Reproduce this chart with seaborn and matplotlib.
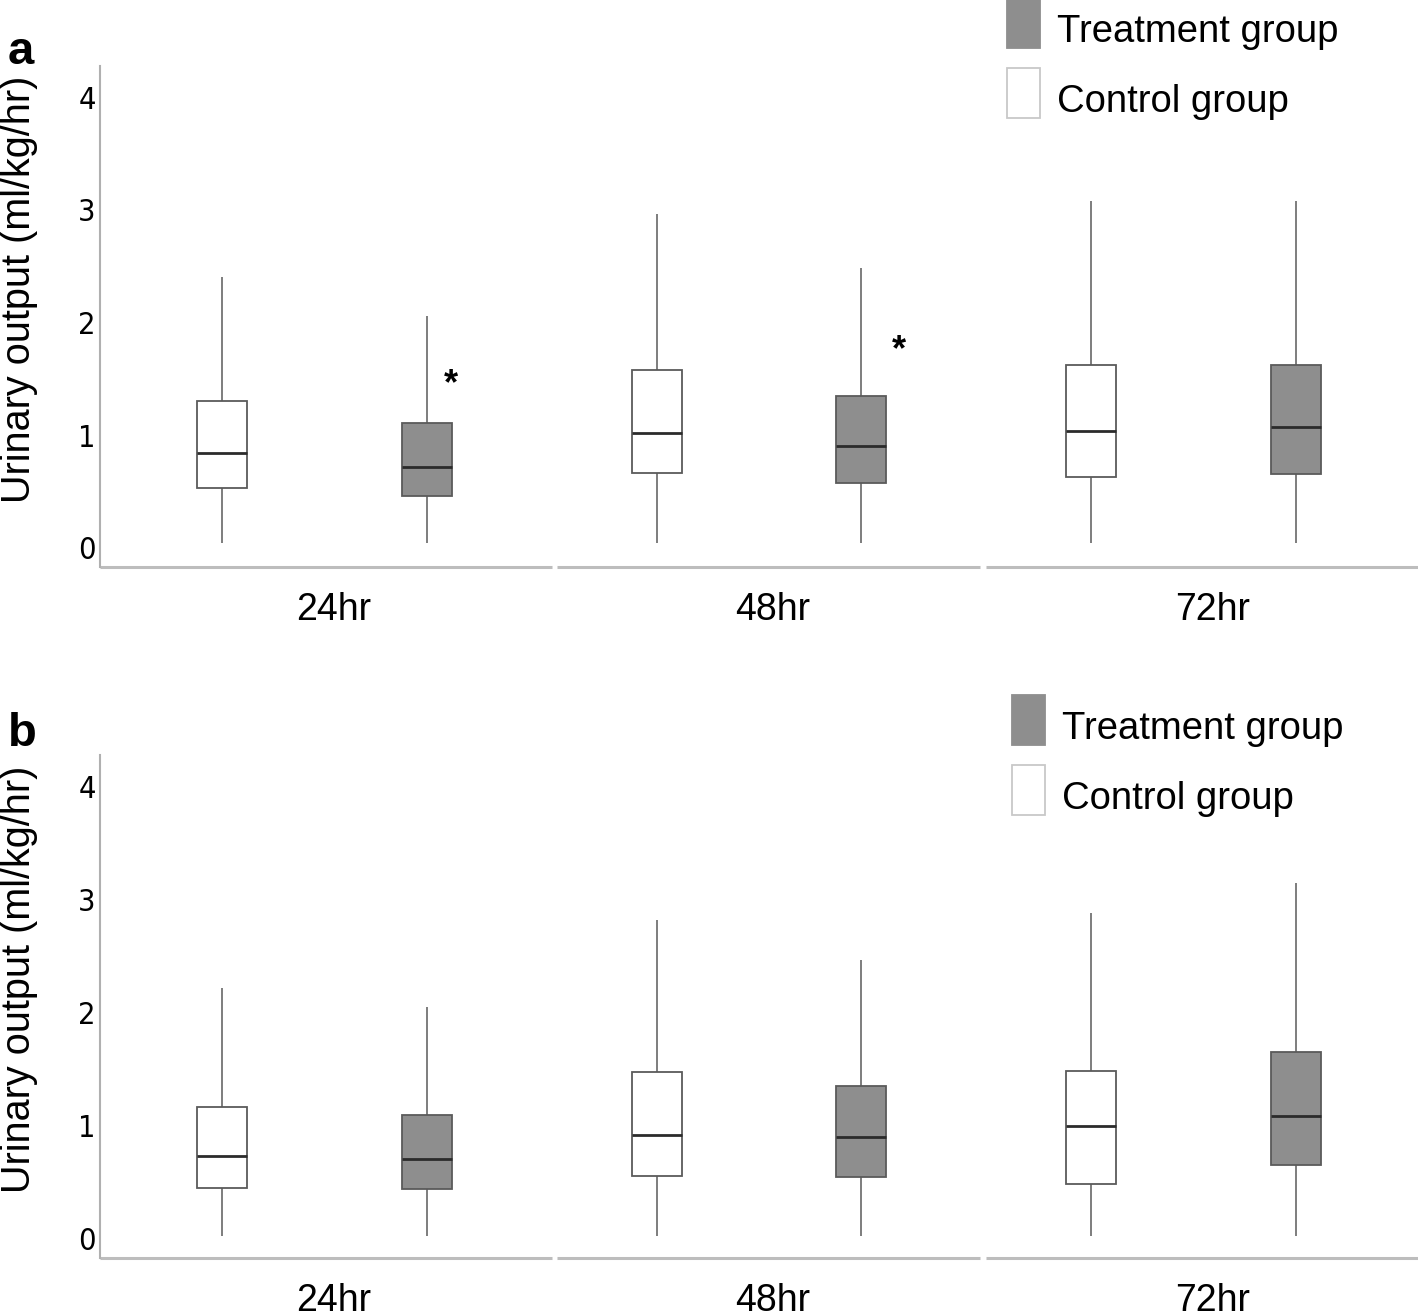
import numpy as np
import pandas as pd
import matplotlib
matplotlib.use('Agg')
import matplotlib.pyplot as plt
from matplotlib.patches import Rectangle
import seaborn as sns

times = ['24hr', '48hr', '72hr']
groups = ['Control group', 'Treatment group']

# five-number summaries: low whisker, Q1, median, Q3, high whisker
a_control = [[0.04, 0.53, 0.84, 1.30, 2.40],
             [0.04, 0.66, 1.02, 1.58, 2.96],
             [0.04, 0.63, 1.04, 1.62, 3.08]]
a_treatment = [[0.04, 0.46, 0.72, 1.11, 2.06],
               [0.04, 0.57, 0.90, 1.35, 2.48],
               [0.04, 0.65, 1.07, 1.62, 3.08]]
b_control = [[0.03, 0.45, 0.73, 1.17, 2.22],
             [0.03, 0.56, 0.92, 1.48, 2.82],
             [0.03, 0.49, 1.00, 1.49, 2.88]]
b_treatment = [[0.03, 0.44, 0.71, 1.10, 2.05],
               [0.03, 0.55, 0.90, 1.35, 2.47],
               [0.03, 0.65, 1.09, 1.65, 3.15]]

# significance marks (panel a only)
star_times = ['24hr', '48hr']
star_y = [1.45, 1.75]
star_dx = [0.055, 0.086]

yticks = [0, 1, 2, 3, 4]

plt.rcParams['font.family'] = ['Liberation Sans', 'DejaVu Sans']

GRAY = '#8e8e8e'

# layout tweaks: where the category labels and baseline pieces sit
label_shift = [0.02, 0.032, 0.044]
seg_left = [-0.518, -0.465, -0.477]
seg_right = [0.524, 0.509, 0.518]


def make_df(control, treatment):
    rows = []
    for t, c, tr in zip(times, control, treatment):
        for v in c:
            rows.append((t, groups[0], v))
        for v in tr:
            rows.append((t, groups[1], v))
    return pd.DataFrame(rows, columns=['time', 'group', 'value'])


def draw_panel(ax, df):
    sns.boxplot(data=df, x='time', y='value', hue='group', order=times,
                hue_order=groups, palette={groups[0]: 'white', groups[1]: GRAY},
                whis=(0, 100), showcaps=False, width=0.944, gap=0.756,
                linecolor='#5a5a5a', linewidth=1.3,
                medianprops={'color': '#2b2b2b', 'linewidth': 2},
                whiskerprops={'linewidth': 1.1},
                legend=False, ax=ax)
    ax.set_xlim(-0.518, 2.518)
    ax.set_ylim(-0.17, 4.28)
    ax.set_xticks(np.arange(len(times)) + np.array(label_shift))
    ax.set_xticklabels(times)
    ax.set_yticks(yticks)
    ax.set_yticklabels([str(v) for v in yticks], family='DejaVu Sans',
                       fontstretch='condensed', fontsize=22)
    ax.tick_params(axis='y', length=0, pad=3)
    ax.tick_params(axis='x', length=0, pad=18, labelsize=27)
    ax.set_xlabel('')
    ax.set_ylabel('Urinary output (ml/kg/hr)', fontsize=28.5)
    ax.yaxis.set_label_coords(-0.047, 0.554)
    for s in ['top', 'right', 'bottom']:
        ax.spines[s].set_visible(False)
    ax.spines['left'].set_color('#b0b0b0')
    ax.spines['left'].set_linewidth(1.5)
    # segmented baseline under each time point
    y0 = ax.get_ylim()[0]
    for i in range(len(times)):
        ax.hlines(y0, i + seg_left[i], i + seg_right[i], color='#bdbdbd',
                  linewidth=2.2, clip_on=False)


fig = plt.figure(figsize=(14.18, 13.12), dpi=100)
ax_a = fig.add_axes([0.0705, 0.568, 0.9295, 0.382])
ax_b = fig.add_axes([0.0705, 0.041, 0.9295, 0.3835])

draw_panel(ax_a, make_df(a_control, a_treatment))
draw_panel(ax_b, make_df(b_control, b_treatment))

for t, y, dx in zip(star_times, star_y, star_dx):
    ax_a.text(times.index(t) + 0.236 + dx, y, '*', fontsize=26, fontweight='bold',
              ha='center', va='center')

W, H = 1418, 1312


def legend(x, y_top, text_x):
    # y_top: pixel position (from top) of first swatch
    for k, (lab, fc, ec) in enumerate([('Treatment group', GRAY, GRAY),
                                       ('Control group', 'white', '#c8c8c8')]):
        top = y_top + 70 * k
        fig.patches.append(Rectangle((x / W, 1 - (top + 50) / H), 33 / W, 50 / H,
                                     transform=fig.transFigure, facecolor=fc,
                                     edgecolor=ec, linewidth=1.3))
        fig.text(text_x / W, 1 - (top + 44) / H, lab, fontsize=27.5, va='baseline',
                 ha='left')


legend(1007, -2, 1057)
legend(1012, 695, 1062)

fig.text(8 / W, 1 - 64 / H, 'a', fontsize=34, fontweight='bold')
fig.text(8 / W, 1 - 746 / H, 'b', fontsize=34, fontweight='bold')

fig.savefig('out.png', dpi=100)
